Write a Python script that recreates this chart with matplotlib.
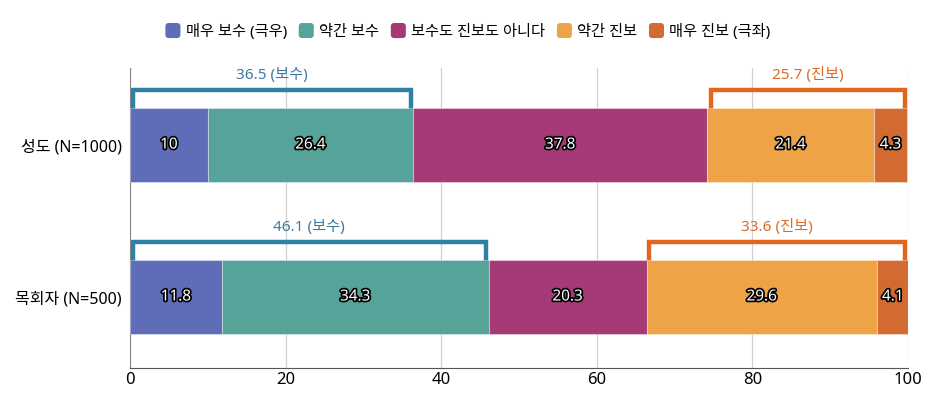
import numpy as np
import matplotlib
matplotlib.use('Agg')
import matplotlib.pyplot as plt
import matplotlib.patheffects as pe
from matplotlib.patches import FancyBboxPatch
from matplotlib.legend_handler import HandlerPatch

plt.rcParams['font.family'] = ['Noto Sans', 'Noto Sans CJK KR', 'DejaVu Sans']

groups = ['성도 (N=1000)', '목회자 (N=500)']
series = ['매우 보수 (극우)', '약간 보수', '보수도 진보도 아니다', '약간 진보', '매우 진보 (극좌)']
values = np.array([
    [10, 26.4, 37.8, 21.4, 4.3],
    [11.8, 34.3, 20.3, 29.6, 4.1],
])
colors = ['#5f6db8', '#56a399', '#a63a76', '#eea346', '#d36a31']
cons_total = [36.5, 46.1]
prog_total = [25.7, 33.6]


class RoundBox(HandlerPatch):
    def create_artists(self, legend, orig_handle, xdescent, ydescent,
                       width, height, fontsize, trans):
        size = min(width, height) * 1.1
        p = FancyBboxPatch((-xdescent + (width - size) / 2, -ydescent + (height - size) / 2),
                           size, size, boxstyle='round,pad=0,rounding_size=2.5',
                           facecolor=orig_handle.get_facecolor(), edgecolor='none',
                           transform=trans)
        return [p]


fig = plt.figure(figsize=(9.36, 3.98), dpi=100)
ax = fig.add_axes([130 / 936, 30 / 398, 778 / 936, 300 / 398])

bar_h = 0.487
ypos = np.arange(len(groups))
left = np.zeros(len(groups))
bars = []
for j, name in enumerate(series):
    b = ax.barh(ypos, values[:, j], left=left, height=bar_h, color=colors[j],
                edgecolor=(1, 1, 1, 0.35), linewidth=0.8, label=name, zorder=3)
    bars.append(b)
    for i in range(len(groups)):
        ax.text(left[i] + values[i, j] / 2, ypos[i], f'{values[i, j]:g}',
                ha='center', va='center', fontsize=11, fontweight='bold',
                color='white', zorder=5,
                path_effects=[pe.withStroke(linewidth=2.5, foreground='black')])
    left += values[:, j]

# brackets
blue = '#2f7fa6'
orange = '#e2671e'
btop = 0.365
for i in range(len(groups)):
    y0 = ypos[i] - bar_h / 2
    y1 = ypos[i] - btop
    c = cons_total[i]
    ax.plot([0.35, 0.35, c - 0.35, c - 0.35], [y0, y1, y1, y0], color=blue,
            lw=3.2, zorder=2, solid_joinstyle='miter')
    ax.text(c / 2, ypos[i] - 0.46, f'{c} (보수)', ha='center', va='center',
            fontsize=11, color='#3d78a0')
    p = prog_total[i]
    s = 100 - p
    ax.plot([s + 0.35, s + 0.35, 99.65, 99.65], [y0, y1, y1, y0], color=orange,
            lw=3.2, zorder=2, solid_joinstyle='miter')
    ax.text(s + p / 2, ypos[i] - 0.46, f'{p} (진보)', ha='center', va='center',
            fontsize=11, color='#e06a22')

ax.set_xlim(0, 100)
ax.set_ylim(1.467, -0.507)
ax.set_yticks(ypos)
ax.set_yticklabels(groups, fontsize=11.5)
ax.set_xticks([0, 20, 40, 60, 80, 100])
ax.tick_params(axis='x', labelsize=12, length=0, pad=3)
ax.tick_params(axis='y', length=0, pad=6)
ax.grid(axis='x', color='#d0d0d0', lw=0.9, zorder=0)
for s_ in ['top', 'right']:
    ax.spines[s_].set_visible(False)
ax.spines['left'].set_color('#888888')
ax.spines['bottom'].set_color('#555555')

leg = fig.legend(handles=[b.patches[0] for b in bars], labels=series,
                 loc='upper center', bbox_to_anchor=(0.5, 0.975), ncol=5,
                 frameon=False, fontsize=11, handlelength=1.0, handleheight=1.0,
                 handletextpad=0.35, columnspacing=0.75,
                 handler_map={matplotlib.patches.Rectangle: RoundBox()})

fig.savefig('out.png', dpi=100)
